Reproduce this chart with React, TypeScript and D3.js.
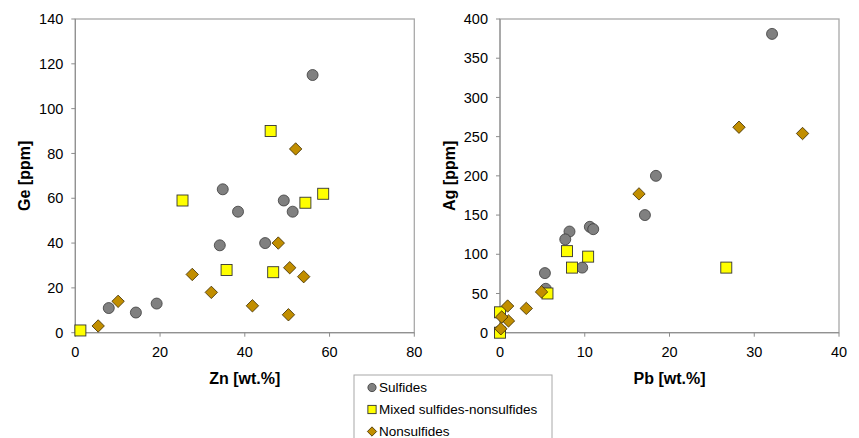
import * as d3 from 'd3'

const W = 859
const H = 438

// Left panel: Zn [wt.%] vs Ge [ppm]
const znSulf = [56, 34.8, 38.4, 49.2, 51.3, 34.1, 44.8, 7.9, 14.3, 19.2]
const geSulf = [115, 64, 54, 59, 54, 39, 40, 11, 9, 13]
const znMixed = [46.1, 25.3, 54.3, 58.5, 35.7, 46.7, 1.2]
const geMixed = [90, 59, 58, 62, 28, 27, 1]
const znNon = [52, 47.9, 50.6, 53.9, 27.6, 32.1, 41.8, 50.3, 10.1, 5.4]
const geNon = [82, 40, 29, 25, 26, 18, 12, 8, 14, 3]

// Right panel: Pb [wt.%] vs Ag [ppm]
const pbSulf = [32.1, 18.4, 17.1, 10.6, 11.0, 8.2, 7.7, 9.7, 5.3, 5.4, 0]
const agSulf = [381, 200, 150, 135, 132, 129, 119, 83, 76, 56, 2]
const pbMixed = [7.9, 8.5, 10.4, 26.7, 5.6, 0, 0]
const agMixed = [104, 83, 97, 83, 50, 26, 0]
const pbNon = [28.2, 35.7, 16.4, 4.9, 3.1, 0.9, 1.0, 0.2, 0.1]
const agNon = [262, 254, 177, 52, 31, 34, 15, 20, 5]

const leftXTicks = [0, 20, 40, 60, 80]
const leftYTicks = [0, 20, 40, 60, 80, 100, 120, 140]
const rightXTicks = [0, 10, 20, 30, 40]
const rightYTicks = [0, 50, 100, 150, 200, 250, 300, 350, 400]

const legendLabels = ['Sulfides', 'Mixed sulfides-nonsulfides', 'Nonsulfides']

const C_SULF = '#808080'
const C_MIXED = '#ffff00'
const C_NON = '#c18e00'
const AXIS = '#8c8c8c'
const FRAME = '#a8a8a8'
const FONT = '"Liberation Sans", Arial, sans-serif'

function Marker({ kind, x, y, s = 1 }: { kind: number; x: number; y: number; s?: number }) {
  if (kind === 0) {
    return <circle cx={x} cy={y} r={5.5 * s} fill={C_SULF} stroke="#3a3a3a" strokeWidth={0.8} />
  }
  if (kind === 1) {
    const h = 5.5 * s
    return <rect x={x - h} y={y - h} width={2 * h} height={2 * h} fill={C_MIXED} stroke="#333" strokeWidth={0.9} />
  }
  const d = 6.2 * s
  return (
    <path
      d={`M${x},${y - d}L${x + d},${y}L${x},${y + d}L${x - d},${y}Z`}
      fill={C_NON}
      stroke="#3a2a00"
      strokeWidth={0.8}
    />
  )
}

type Series = { xs: number[]; ys: number[] }

function Panel({
  x0, x1, y0, y1, xMax, yMax, xTicks, yTicks, xTitle, yTitle, titleX, series,
}: {
  x0: number; x1: number; y0: number; y1: number; xMax: number; yMax: number
  xTicks: number[]; yTicks: number[]; xTitle: string; yTitle: string; titleX: number
  series: Series[]
}) {
  const xs = d3.scaleLinear().domain([0, xMax]).range([x0, x1])
  const ys = d3.scaleLinear().domain([0, yMax]).range([y1, y0])
  return (
    <g>
      {/* plot frame: top/right lighter, bottom/left axes darker */}
      <rect x={x0} y={y0} width={x1 - x0} height={y1 - y0} fill="#fff" stroke={FRAME} strokeWidth={1.3} />
      <line x1={x0} x2={x1} y1={y1} y2={y1} stroke={AXIS} />
      <line x1={x0} x2={x0} y1={y0} y2={y1} stroke={AXIS} />
      {yTicks.map((t) => (
        <g key={'y' + t}>
          <line x1={x0 - 4} x2={x0} y1={ys(t)} y2={ys(t)} stroke={AXIS} />
          <text x={x0 - 12} y={ys(t)} dy="0.35em" textAnchor="end" fontSize={14.5} fontFamily={FONT} fill="#000">
            {t}
          </text>
        </g>
      ))}
      {xTicks.map((t) => (
        <g key={'x' + t}>
          <line x1={xs(t)} x2={xs(t)} y1={y1} y2={y1 + 4} stroke={AXIS} />
          <text x={xs(t)} y={y1 + 24} textAnchor="middle" fontSize={14.5} fontFamily={FONT} fill="#000">
            {t}
          </text>
        </g>
      ))}
      <text
        x={(x0 + x1) / 2}
        y={y1 + 51}
        textAnchor="middle"
        fontSize={16}
        fontWeight="bold"
        fontFamily={FONT}
      >
        {xTitle}
      </text>
      <text
        transform={`translate(${titleX},${(y0 + y1) / 2}) rotate(-90)`}
        textAnchor="middle"
        dy="0.35em"
        fontSize={16}
        fontWeight="bold"
        fontFamily={FONT}
      >
        {yTitle}
      </text>
      {series.map((s, k) =>
        s.xs.map((v, i) => <Marker key={k + '-' + i} kind={k} x={xs(v)} y={ys(s.ys[i])} />)
      )}
    </g>
  )
}

export default function App() {
  return (
    <svg
      width={W}
      height={H}
      style={{ position: 'absolute', left: 0, top: 0, display: 'block', background: '#fff' }}
    >
      <Panel
        x0={75.3} x1={414.3} y0={19} y1={332.7}
        xMax={80} yMax={140}
        xTicks={leftXTicks} yTicks={leftYTicks}
        xTitle="Zn [wt.%]" yTitle="Ge [ppm]" titleX={24}
        series={[
          { xs: znSulf, ys: geSulf },
          { xs: znMixed, ys: geMixed },
          { xs: znNon, ys: geNon },
        ]}
      />
      <Panel
        x0={500} x1={839} y0={19} y1={332.7}
        xMax={40} yMax={400}
        xTicks={rightXTicks} yTicks={rightYTicks}
        xTitle="Pb [wt.%]" yTitle="Ag [ppm]" titleX={449}
        series={[
          { xs: pbSulf, ys: agSulf },
          { xs: pbMixed, ys: agMixed },
          { xs: pbNon, ys: agNon },
        ]}
      />
      <g>
        <rect x={354} y={375} width={198} height={80} fill="#fff" stroke={FRAME} strokeWidth={1} />
        {legendLabels.map((l, i) => {
          const cy = 387.5 + i * 22
          return (
            <g key={l}>
              <Marker kind={i} x={372} y={cy} s={0.75} />
              <text x={379} y={cy} dy="0.35em" fontSize={13.5} fontFamily={FONT}>
                {l}
              </text>
            </g>
          )
        })}
      </g>
    </svg>
  )
}
